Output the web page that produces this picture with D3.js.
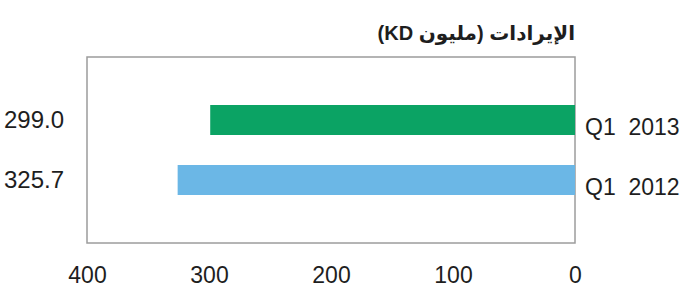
<!DOCTYPE html>
<html>
<head>
<meta charset="utf-8">
<script src="https://cdn.jsdelivr.net/npm/d3@7"></script>
<style>
  body { margin: 0; background: #fff; }
  text { font-family: "Liberation Sans", Arial, "DejaVu Sans", sans-serif; fill: #1e1e1e; }
</style>
</head>
<body>
<div id="chart"></div>
<script>
// data
var categories = ["Q1  2013", "Q1  2012"]
var values = [299.0, 325.7]
var colors = ["#0ba364", "#6bb7e6"]
var tickValues = [400, 300, 200, 100, 0]
var title = "الإيرادات (مليون KD)"

var svgWidth = 686
var svgHeight = 290

var svg = d3.select("#chart")
  .append("svg")
  .attr("width", svgWidth)
  .attr("height", svgHeight)

// reversed axis: 400 on the left, 0 on the right
var xScale = d3.scaleLinear()
  .domain([400, 0])
  .range([87, 575])

var yScale = d3.scaleBand()
  .domain(categories)
  .range([57, 243])
  .paddingInner(0.5)
  .paddingOuter(0.8)

// frame
svg.append("rect")
  .attr("x", xScale(400))
  .attr("y", yScale.range()[0])
  .attr("width", xScale(0) - xScale(400))
  .attr("height", yScale.range()[1] - yScale.range()[0])
  .attr("fill", "none")
  .attr("stroke", "#9c9c9c")
  .attr("stroke-width", 1.5)

// bars
svg.selectAll(".bar")
  .data(values)
  .enter()
  .append("rect")
  .attr("class", "bar")
  .attr("x", d => xScale(d))
  .attr("y", (d, i) => yScale(categories[i]))
  .attr("width", d => xScale(0) - xScale(d))
  .attr("height", yScale.bandwidth())
  .attr("fill", (d, i) => colors[i])

// value labels on the left
svg.selectAll(".val")
  .data(values)
  .enter()
  .append("text")
  .attr("class", "val")
  .attr("x", 64)
  .attr("y", (d, i) => yScale(categories[i]) + yScale.bandwidth() / 2)
  .attr("dy", "0.35em")
  .attr("text-anchor", "end")
  .style("font-size", "24px")
  .text(d => d3.format(".1f")(d))

// category labels on the right
svg.selectAll(".cat")
  .data(categories)
  .enter()
  .append("text")
  .attr("class", "cat")
  .attr("x", 585)
  .attr("y", d => yScale(d) + yScale.bandwidth() / 2 + 7)
  .attr("dy", "0.35em")
  .attr("xml:space", "preserve")
  .style("white-space", "pre")
  .style("font-size", "23px")
  .text(d => d)

// bottom axis
var bottomAxis = d3.axisBottom(xScale)
  .tickValues(tickValues)
  .tickSize(0)
  .tickPadding(24)

var axisG = svg.append("g")
  .attr("transform", `translate(0, ${yScale.range()[1]})`)
  .call(bottomAxis)

axisG.select(".domain").remove()
axisG.selectAll("text")
  .style("font-size", "23px")
  .style("font-family", "\"Liberation Sans\", Arial, sans-serif")
  .attr("fill", "#1e1e1e")

// title
svg.append("text")
  .attr("x", 575)
  .attr("y", 40)
  .attr("direction", "rtl")
  .attr("text-anchor", "start")
  .style("font-size", "20px")
  .style("font-weight", "bold")
  .text(title)
</script>
</body>
</html>
